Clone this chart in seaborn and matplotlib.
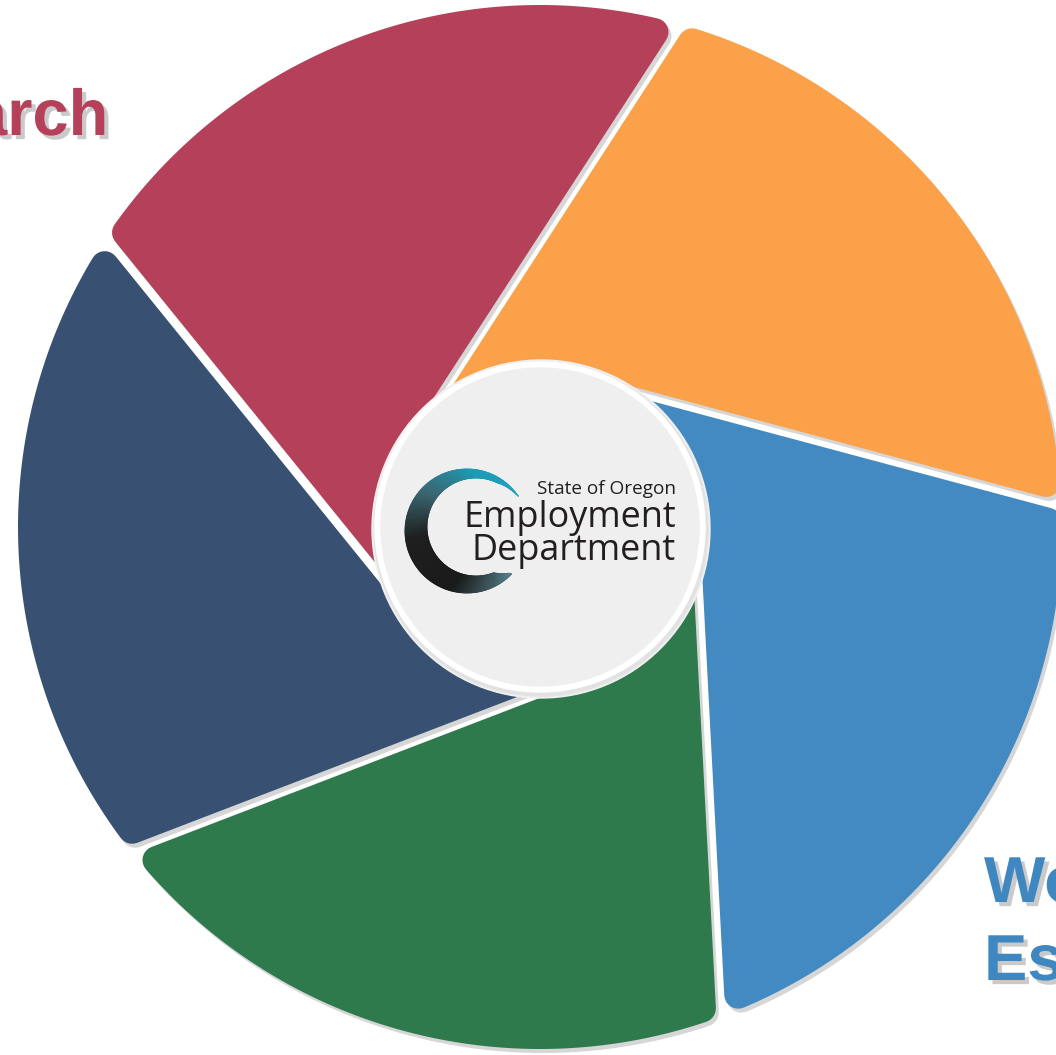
import numpy as np
import matplotlib.pyplot as plt
import matplotlib.patheffects as pe
from matplotlib.patches import Polygon, Circle
from matplotlib.collections import PolyCollection
from matplotlib.colors import LinearSegmentedColormap
import seaborn as sns

# seaborn only for the clean white base style
sns.set_theme(style="white")

# --- the pinwheel: five equal blades, counter-clockwise from the orange one ---
blade_names = ['Orange', 'Red', 'Navy', 'Green', 'Blue']
blade_colors = ['#FBA14A', '#B5405A', '#385172', '#2E7A4D', '#428AC1']
blade_share = [1, 1, 1, 1, 1]

# labels that run off the edge of the picture
left_label = 'Research'
right_label = ['Workforce', 'Estimates']

# centre logo
logo_small = 'State of Oregon'
logo_big = ['Employment', 'Department']

W, H = 1056, 1055
PX = 72 / 100  # points per pixel at dpi 100

fig = plt.figure(figsize=(W / 100, H / 100), dpi=100)
ax = fig.add_axes([0, 0, 1, 1])
ax.set_xlim(0, W)
ax.set_ylim(0, H)
ax.set_aspect('equal')
ax.axis('off')

# geometry of the wheel (pixels)
cx, cy = 540, H - 527
R_out, hub_r, offset, gap, corner = 522, 165, 155, 9, 14

# blade edges are straight lines held `offset` away from the hub centre
edge_angles = np.deg2rad(75 + np.concatenate([[0], np.cumsum(blade_share)]) * 360 / sum(blade_share))


def on_line(th, h, t):
    return np.array([cx + h * np.cos(th) - t * np.sin(th),
                     cy + h * np.sin(th) + t * np.cos(th)])


def blade_outline(th_a, th_b):
    # outline shrunk by `corner`, the thick round-joined stroke grows it back
    ro = R_out - corner
    ha = offset + gap / 2 + corner
    hb = offset - gap / 2 - corner
    a_out = on_line(th_a, ha, -np.sqrt(ro ** 2 - ha ** 2))
    b_out = on_line(th_b, hb, -np.sqrt(ro ** 2 - hb ** 2))
    a0 = np.arctan2(a_out[1] - cy, a_out[0] - cx)
    a1 = np.arctan2(b_out[1] - cy, b_out[0] - cx)
    a1 = a0 + (a1 - a0) % (2 * np.pi)
    ang = np.linspace(a0, a1, 90)
    arc = np.column_stack([cx + ro * np.cos(ang), cy + ro * np.sin(ang)])
    b_in = on_line(th_b, hb, -30)
    t_a = on_line(th_a, ha, 0)
    return np.vstack([arc, b_in, [cx, cy], t_a])


outlines = [blade_outline(edge_angles[k], edge_angles[k + 1]) for k in range(len(blade_colors))]

# soft grey shadows first, so they only show in the gaps
for pts in outlines:
    ax.add_patch(Polygon(pts + [3, -4], closed=True, fc='#d6d6d6', ec='#d6d6d6',
                         lw=2 * corner * PX, joinstyle='round', zorder=1))
for pts, col in zip(outlines, blade_colors):
    ax.add_patch(Polygon(pts, closed=True, fc=col, ec=col,
                         lw=2 * corner * PX, joinstyle='round', zorder=2))

# hub with a faint shadow ring
for i, c in enumerate(['#f0f0f0', '#e2e2e2']):
    ax.add_patch(Circle((cx + 1, cy - 2), hub_r + 4 - 2 * i, color=c, zorder=3))
ax.add_patch(Circle((cx, cy), hub_r, color='white', zorder=3))
ax.add_patch(Circle((cx, cy), hub_r - 6, color='#efefef', zorder=3))

# logo swoosh: a crescent "C" between two offset circles, teal to black
outer_c, outer_r = (467, H - 531), 62
inner_c, inner_r = (476, H - 527), 49
a_start, a_end = 34, 316
ang = np.linspace(a_start, a_end, 360)
rad = np.deg2rad(ang)
outer = np.column_stack([outer_c[0] + outer_r * np.cos(rad), outer_c[1] + outer_r * np.sin(rad)])
inner = np.column_stack([inner_c[0] + inner_r * np.cos(rad), inner_c[1] + inner_r * np.sin(rad)])
taper = np.clip(np.minimum((ang - a_start) / 30, (a_end - ang) / 25), 0, 1) ** 0.7
inner = outer + (inner - outer) * taper[:, None]
quads = [np.array([outer[i], outer[i + 1], inner[i + 1], inner[i]]) for i in range(len(ang) - 1)]
swoosh_cmap = LinearSegmentedColormap.from_list(
    'swoosh', [(0, '#1BA4C0'), (0.2, '#1E9AB3'), (0.38, '#3B6670'),
               (0.55, '#1F1F1F'), (0.78, '#1A1A1A'), (1, '#55808A')])
qcol = swoosh_cmap(np.linspace(0, 1, len(quads)))
ax.add_collection(PolyCollection(quads, facecolors=qcol, edgecolors=qcol, linewidths=0.6, zorder=4))

logo_font = dict(family='Open Sans', color='#231F20', ha='right', va='baseline', zorder=5)
ax.text(676, H - 494, logo_small, fontsize=19 * PX, **logo_font)
ax.text(676, H - 527, logo_big[0], fontsize=36 * PX, **logo_font)
ax.text(676, H - 560, logo_big[1], fontsize=36 * PX, **logo_font)

# outer labels, bold with a drop shadow
shadow = [pe.SimplePatchShadow(offset=(3, -3), shadow_rgbFace='#a0a0a0', alpha=0.55), pe.Normal()]
label_font = dict(family='Liberation Sans', fontweight='bold', fontsize=65 * PX,
                  va='baseline', zorder=6, path_effects=shadow)
ax.text(108, H - 135, left_label, ha='right', color='#B5405A', **label_font)
ax.text(984, H - 902, right_label[0], ha='left', color='#3F87C0', **label_font)
ax.text(984, H - 980, right_label[1], ha='left', color='#3F87C0', **label_font)

fig.savefig('out.png', dpi=100)
